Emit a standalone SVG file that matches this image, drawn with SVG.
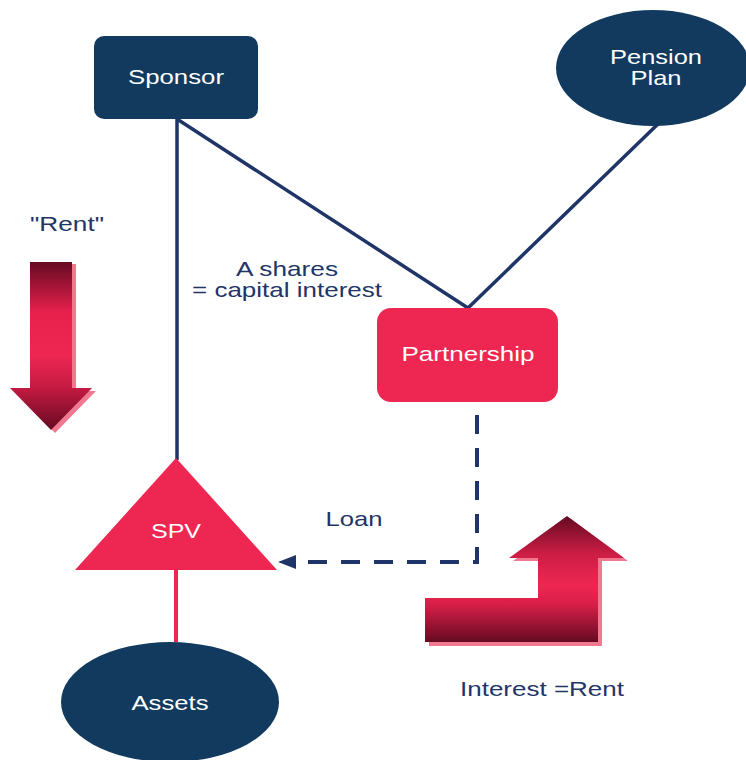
<svg xmlns="http://www.w3.org/2000/svg" width="746" height="760" viewBox="0 0 746 760">
<defs>
<style>
.navy{fill:#123a5e}
.pink{fill:#ee2752}
.lbl{font-family:"Liberation Sans",Arial,sans-serif;font-size:21px;fill:#1f3568;text-anchor:middle}
.wt{font-family:"Liberation Sans",Arial,sans-serif;font-size:21px;fill:#ffffff;text-anchor:middle}
.ln{stroke:#1f3568;stroke-width:3.5;fill:none}
</style>
<linearGradient id="gDown" x1="0" y1="262" x2="0" y2="430" gradientUnits="userSpaceOnUse">
<stop offset="0" stop-color="#650a22"/>
<stop offset="0.3" stop-color="#e8204c"/>
<stop offset="0.55" stop-color="#ee2752"/>
<stop offset="0.75" stop-color="#c41a42"/>
<stop offset="1" stop-color="#650a22"/>
</linearGradient>
<linearGradient id="gUp" x1="0" y1="516" x2="0" y2="642" gradientUnits="userSpaceOnUse">
<stop offset="0" stop-color="#650a22"/>
<stop offset="0.3" stop-color="#cc1d45"/>
<stop offset="0.55" stop-color="#ee2752"/>
<stop offset="0.7" stop-color="#d81f48"/>
<stop offset="1" stop-color="#650a22"/>
</linearGradient>
<marker id="ah" markerWidth="18" markerHeight="14" refX="0" refY="7" orient="auto-start-reverse" markerUnits="userSpaceOnUse">
<path d="M0,7 L18,0 L18,14 Z" fill="#1f3568"/>
</marker>
</defs>
<rect width="746" height="760" fill="#ffffff"/>
<g id="connectors">
<line class="ln" x1="177" y1="119" x2="177" y2="460"/>
<line class="ln" x1="177" y1="119" x2="468" y2="308"/>
<line class="ln" x1="658" y1="124" x2="468" y2="308"/>
<line x1="176" y1="570" x2="176" y2="642" stroke="#ee2752" stroke-width="4"/>
<path d="M477,415 V562 H298" stroke="#1f3568" stroke-width="4" fill="none" stroke-dasharray="19,14"/>
<path d="M278,562 L296,555 L296,569 Z" fill="#1f3568"/>
</g>
<g id="sponsor">
<rect class="navy" x="94" y="36" width="164" height="83" rx="10"/>
<text class="wt" x="176" y="84" textLength="96" lengthAdjust="spacingAndGlyphs">Sponsor</text>
</g>
<g id="pension">
<ellipse class="navy" cx="653" cy="68" rx="97" ry="58"/>
<text class="wt" x="656" y="64" textLength="92" lengthAdjust="spacingAndGlyphs">Pension</text>
<text class="wt" x="656" y="85" textLength="51" lengthAdjust="spacingAndGlyphs">Plan</text>
</g>
<g id="partnership">
<rect class="pink" x="377" y="308" width="181" height="94" rx="14"/>
<text class="wt" x="468" y="361" textLength="133" lengthAdjust="spacingAndGlyphs">Partnership</text>
</g>
<g id="spv">
<polygon class="pink" points="176,458 277,570 75,570"/>
<text class="wt" x="176" y="538" textLength="50" lengthAdjust="spacingAndGlyphs">SPV</text>
</g>
<g id="assets">
<ellipse class="navy" cx="170" cy="702" rx="109" ry="60"/>
<text class="wt" x="170" y="710" textLength="77" lengthAdjust="spacingAndGlyphs">Assets</text>
</g>
<g id="labels">
<text class="lbl" x="67" y="231" textLength="74" lengthAdjust="spacingAndGlyphs">"Rent"</text>
<text class="lbl" x="287" y="276" textLength="102" lengthAdjust="spacingAndGlyphs">A shares</text>
<text class="lbl" x="287" y="297" textLength="190" lengthAdjust="spacingAndGlyphs">= capital interest</text>
<text class="lbl" x="354" y="526" textLength="57" lengthAdjust="spacingAndGlyphs">Loan</text>
<text class="lbl" x="542" y="696" textLength="164" lengthAdjust="spacingAndGlyphs">Interest =Rent</text>
</g>
<g id="rent-arrow">
<polygon points="34,264 76,264 76,391 96,391 55,433 14,391 34,391" fill="#f0788f"/>
<polygon points="30,262 72,262 72,388 92,388 51,430 10,388 30,388" fill="url(#gDown)"/>
</g>
<g id="interest-arrow">
<polygon points="429,602 542,602 542,561 513,561 571,519 628,561 602,561 602,646 429,646" fill="#f0788f"/>
<polygon points="425,598 538,598 538,558 509,558 567,516 624,558 598,558 598,642 425,642" fill="url(#gUp)"/>
</g>
</svg>
